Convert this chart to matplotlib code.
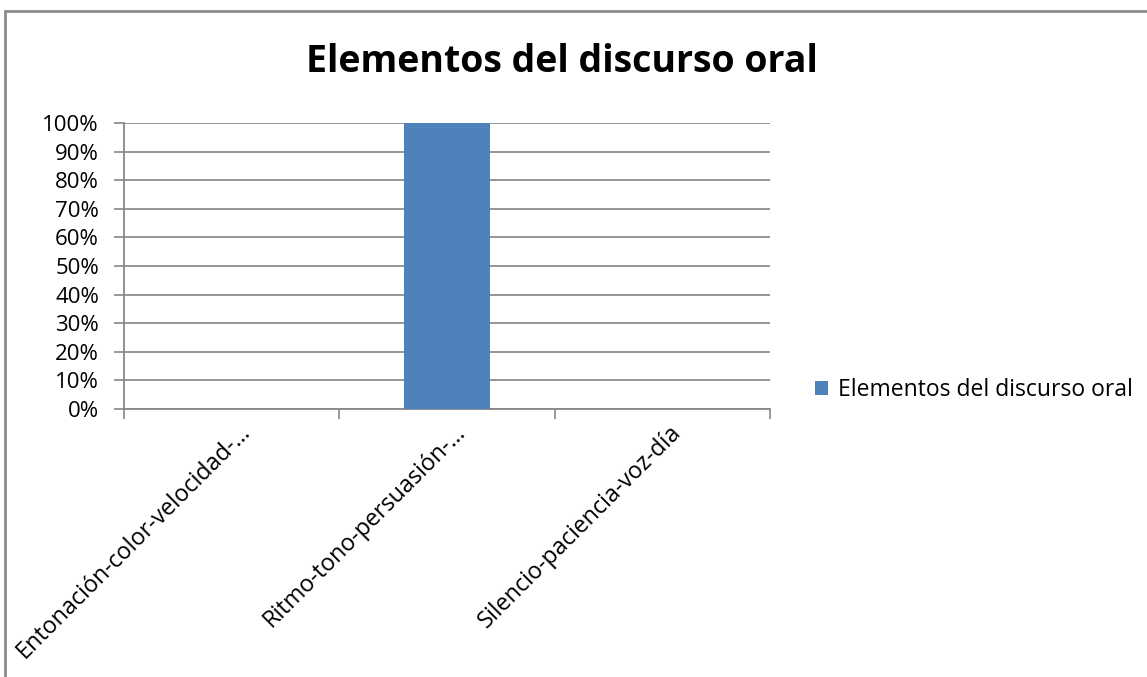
import matplotlib
matplotlib.use("Agg")
import matplotlib.pyplot as plt
from matplotlib.patches import Rectangle
from matplotlib.ticker import FuncFormatter

categories = ["Entonación-color-velocidad-…", "Ritmo-tono-persuasión-…", "Silencio-paciencia-voz-día"]
values = [0.0, 1.0, 0.0]
series_name = "Elementos del discurso oral"
title = "Elementos del discurso oral"
yticks = [0, 0.1, 0.2, 0.3, 0.4, 0.5, 0.6, 0.7, 0.8, 0.9, 1.0]

plt.rcParams['font.family'] = ['Open Sans', 'DejaVu Sans']

W, H = 1147, 677
fig = plt.figure(figsize=(W / 100, H / 100), dpi=100)
ax = fig.add_axes([124 / W, (H - 409) / H, (770 - 124) / W, (409 - 123) / H])

x = list(range(len(categories)))
bars = ax.bar(x, values, width=0.4, color="#4F81BD", label=series_name, zorder=3)
ax.set_xlim(-0.5, 2.5)
ax.set_ylim(0, 1.0)
ax.set_yticks(yticks)
ax.yaxis.set_major_formatter(FuncFormatter(lambda v, p: f"{round(v * 100)}%"))
ax.tick_params(axis='y', labelsize=16, length=7, width=1.2, color="#888888", pad=11)
ax.grid(axis='y', color="#8c8c8c", linewidth=1.3, zorder=0)
for s in ['top', 'right']:
    ax.spines[s].set_visible(False)
ax.spines['left'].set_color("#888888")
ax.spines['left'].set_linewidth(1.3)
ax.spines['bottom'].set_color("#888888")
ax.spines['bottom'].set_linewidth(1.3)

ax.set_xticks([-0.5, 0.5, 1.5, 2.5], minor=False)
ax.set_xticklabels([])
ax.tick_params(axis='x', length=7, width=1.2, color="#888888", direction='out')
for xi, lab in zip(x, categories):
    ax.annotate(lab, xy=(xi, 0), xycoords=('data', 'axes fraction'),
                xytext=(5, -8), textcoords='offset points',
                rotation=45, rotation_mode='anchor', ha='right', va='top',
                fontsize=16.8)

fig.text(562 / W, 1 - 62 / H, title, ha='center', va='center',
         fontsize=27, fontweight='bold')

leg = fig.legend(handles=[bars], labels=[series_name], loc='center left',
                 bbox_to_anchor=(794 / W, 1 - 390 / H), frameon=False,
                 fontsize=16.5, handlelength=0.6, handleheight=0.6, handletextpad=0.4)

fig.patches.append(Rectangle((5 / W, -0.1), 1.2, (1 - 11 / H) + 0.1,
                             transform=fig.transFigure, fill=False,
                             edgecolor="#8c8c8c", linewidth=2))

fig.savefig("out.png", dpi=100)
